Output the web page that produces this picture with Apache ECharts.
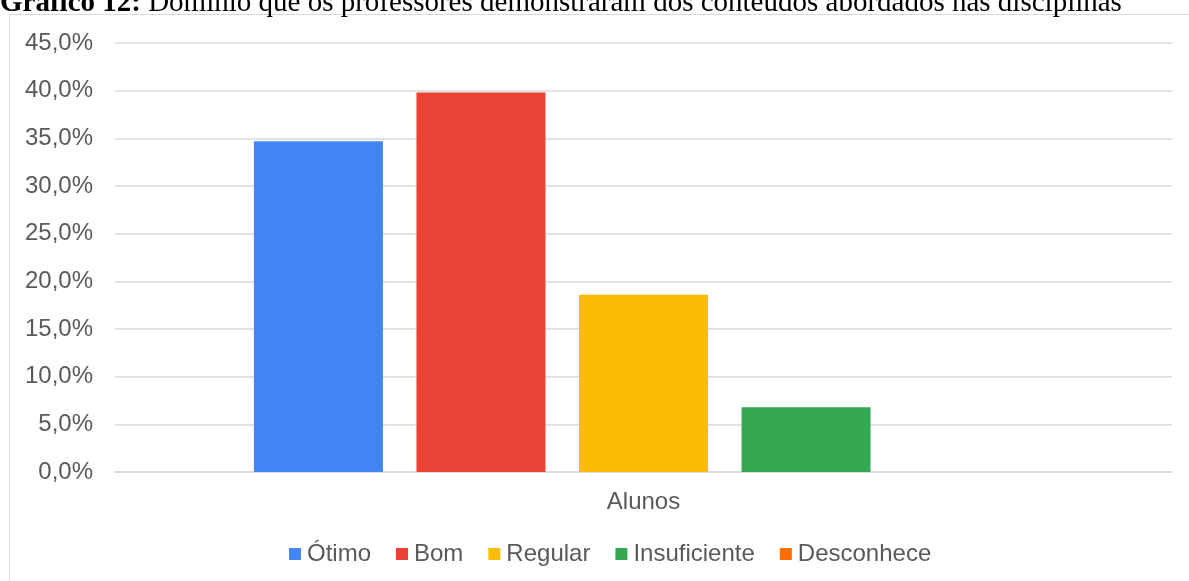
<!DOCTYPE html>
<html>
<head>
<meta charset="utf-8">
<script src="https://cdn.jsdelivr.net/npm/echarts@6/dist/echarts.min.js"></script>
<style>
html,body{margin:0;padding:0;background:#fff;}
#container{width:1189px;height:581px;}
</style>
</head>
<body>
<div id="container"></div>
<script>
// dados do gráfico
var categorias = ["Alunos"];
var nomes = ["Ótimo", "Bom", "Regular", "Insuficiente", "Desconhece"];
var valores = [34.7, 39.8, 18.6, 6.8, 0];
var cores = ["#4285F4", "#EA4335", "#FBBC04", "#34A853", "#FF6D01"];
var yTicks = [0, 5, 10, 15, 20, 25, 30, 35, 40, 45];

var dom = document.getElementById("container");
var myChart = echarts.init(dom);
var series = [];
for (var i = 0; i < nomes.length; i++) {
    series.push({
        name: nomes[i],
        type: 'bar',
        data: [valores[i]],
        barWidth: 129,
        barGap: '26%',
        itemStyle: {color: cores[i]}
    });
}

var option = {
    backgroundColor: '#fff',
    animation: false,
    graphic: [
        {
            type: 'rect',
            shape: {x: 9.5, y: 14.5, width: 1300, height: 700},
            style: {fill: 'none', stroke: '#d9d9d9', lineWidth: 1},
            silent: true
        },
        {
            type: 'text',
            x: 0,
            y: 18,
            style: {
                text: '{b|Gráfico 12:} Domínio que os professores demonstraram dos conteúdos abordados nas disciplinas',
                fontFamily: 'Liberation Serif',
                fontSize: 29,
                fill: '#000',
                verticalAlign: 'bottom',
                rich: {b: {fontWeight: 'bold', fontFamily: 'Liberation Serif', fontSize: 29}}
            }
        }
    ],
    legend: {
        data: nomes,
        left: 284,
        top: 537,
        itemWidth: 12,
        itemHeight: 12,
        itemGap: 25,
        icon: 'rect',
        textStyle: {fontFamily: 'Liberation Sans', fontSize: 24, color: '#595959', padding: [0, 0, 0, 1]}
    },
    grid: {left: 115, right: 17, top: 43, bottom: 109, containLabel: false},
    xAxis: {
        type: 'category',
        data: categorias,
        axisLine: {lineStyle: {color: '#d9d9d9', width: 1.5}},
        axisTick: {show: false},
        axisLabel: {fontFamily: 'Liberation Sans', fontSize: 24, color: '#595959', margin: 18}
    },
    yAxis: {
        type: 'value',
        min: yTicks[0],
        max: yTicks[yTicks.length - 1],
        interval: 5,
        axisLine: {show: false},
        axisTick: {show: false},
        splitLine: {lineStyle: {color: '#d9d9d9', width: 1.5}},
        axisLabel: {
            fontFamily: 'Liberation Sans', fontSize: 24, color: '#595959', margin: 22,
            formatter: function (v) { return v.toFixed(1).replace('.', ',') + '%'; }
        }
    },
    series: series
};
myChart.setOption(option, true);
</script>
</body>
</html>
